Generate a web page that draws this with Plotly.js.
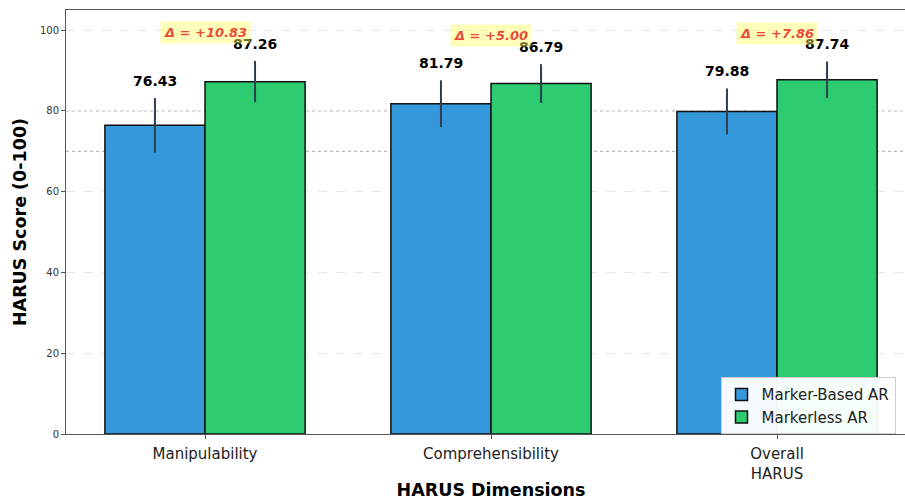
<!DOCTYPE html>
<html>
<head>
<meta charset="utf-8">
<script src="https://cdn.plot.ly/plotly-3.0.1.min.js"></script>
<style>
html,body{margin:0;padding:0;overflow:hidden;background:#fff;}
#chart{width:930px;height:502px;}
</style>
</head>
<body>
<div id="chart"></div>
<script>
const categories = ["Manipulability", "Comprehensibility", "Overall<br>HARUS"];
const markerBased = [76.43, 81.79, 79.88];
const markerBasedErr = [6.75, 5.8, 5.7];
const markerless = [87.26, 86.79, 87.74];
const markerlessErr = [5.1, 4.8, 4.5];
const seriesNames = ["Marker-Based AR", "Markerless AR"];
const refLines = [70, 80];
const yTicks = [0, 20, 40, 60, 80, 100];

const FONT = "DejaVu Sans, Liberation Sans, sans-serif";
const idx = categories.map((_, i) => i);
const barW = 0.35;

const traces = [
  {
    type: "bar", name: seriesNames[0], x: idx, y: markerBased,
    width: barW, offset: -barW,
    marker: {color: "#3498db", line: {color: "#111", width: 1.5}},
    error_y: {type: "data", array: markerBasedErr, visible: true, color: "#2c3e50", thickness: 2, width: 0}
  },
  {
    type: "bar", name: seriesNames[1], x: idx, y: markerless,
    width: barW, offset: 0,
    marker: {color: "#2ecc71", line: {color: "#111", width: 1.5}},
    error_y: {type: "data", array: markerlessErr, visible: true, color: "#2c3e50", thickness: 2, width: 0}
  }
];

const annotations = [];
idx.forEach(i => {
  annotations.push({
    x: i - barW / 2, y: markerBased[i] + markerBasedErr[i] + 1, xref: "x", yref: "y",
    text: "<b>" + markerBased[i].toFixed(2) + "</b>", showarrow: false, yanchor: "bottom", yshift: 3,
    font: {family: FONT, size: 14, color: "#000"}
  });
  annotations.push({
    x: i + barW / 2, y: markerless[i] + markerlessErr[i] + 1, xref: "x", yref: "y",
    text: "<b>" + markerless[i].toFixed(2) + "</b>", showarrow: false, yanchor: "bottom", yshift: 3,
    font: {family: FONT, size: 14, color: "#000"}
  });
  const d = markerless[i] - markerBased[i];
  annotations.push({
    x: i, y: Math.max(markerless[i] + markerlessErr[i], markerBased[i] + markerBasedErr[i]) + 7,
    xref: "x", yref: "y",
    text: "<b><i>Δ = " + (d >= 0 ? "+" : "") + d.toFixed(2) + "</i></b>", showarrow: false,
    font: {family: FONT, size: 13, color: "#e74c3c"},
    bgcolor: "rgba(255,255,100,0.45)", borderpad: 3
  });
});

const shapes = refLines.map(v => ({
  type: "line", xref: "paper", x0: 0, x1: 1, yref: "y", y0: v, y1: v,
  line: {color: "#aaaaaa", width: 1, dash: "dot"}, layer: "below"
}));

const layout = {
  width: 930, height: 502,
  margin: {l: 66, r: 14, t: 10, b: 68},
  paper_bgcolor: "#fff", plot_bgcolor: "#fff",
  barmode: "group",
  showlegend: true,
  font: {family: FONT, color: "#222"},
  xaxis: {
    range: [-0.486, 2.486], tickvals: idx, ticktext: categories,
    showgrid: false, zeroline: false,
    showline: true, linecolor: "#555", linewidth: 1, mirror: true,
    ticks: "outside", ticklen: 4, tickcolor: "#555", ticklabelstandoff: 2,
    tickfont: {family: FONT, size: 15, color: "#222"},
    title: {text: "<b>HARUS Dimensions</b>", font: {family: FONT, size: 17.5, color: "#000"}, standoff: 2}
  },
  yaxis: {
    range: [0, 105], tickvals: yTicks,
    showgrid: true, gridcolor: "#e6e6e6", griddash: "dash", gridwidth: 1,
    zeroline: false,
    showline: true, linecolor: "#555", linewidth: 1, mirror: true,
    ticks: "outside", ticklen: 4, tickcolor: "#555",
    tickfont: {family: FONT, size: 10, color: "#333"},
    title: {text: "<b>HARUS Score (0-100)</b>", font: {family: FONT, size: 17.5, color: "#000"}, standoff: 8}
  },
  legend: {
    x: 0.77, y: 0.134, xanchor: "left", yanchor: "top",
    bgcolor: "rgba(255,255,255,0.95)", bordercolor: "#cccccc", borderwidth: 1,
    font: {family: FONT, size: 15, color: "#222"}, tracegroupgap: 0
  },
  annotations: annotations,
  shapes: shapes
};

Plotly.newPlot("chart", traces, layout, {displayModeBar: false, responsive: false});
</script>
</body>
</html>
